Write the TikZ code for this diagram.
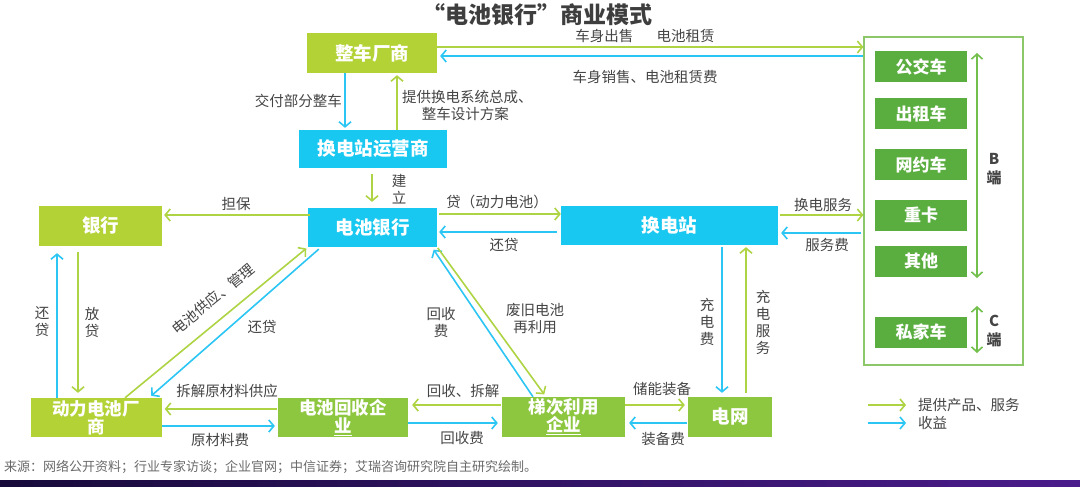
\documentclass[tikz,border=0pt]{standalone}
\usepackage{fontspec}
\setmainfont{Noto Sans CJK SC}
\usetikzlibrary{arrows.meta}
\definecolor{ygreen}{HTML}{B3D235}
\definecolor{mgreen}{HTML}{8DC63F}
\definecolor{dgreen}{HTML}{5AAD3F}
\definecolor{cyanb}{HTML}{19C8F0}
\definecolor{garr}{HTML}{AED443}
\definecolor{carr}{HTML}{2CC6F4}
\definecolor{barr}{HTML}{72BF4C}
\definecolor{txt}{HTML}{454545}
\definecolor{frame}{HTML}{8CC86A}
\definecolor{bandL}{HTML}{160A3A}
\definecolor{bandR}{HTML}{4B1C8C}
\tikzset{
  box/.style={inner sep=0pt, text=white, font=\bfseries\fontsize{18.5}{20}\selectfont, align=center},
  box2/.style={box, font=\bfseries\fontsize{17.5}{18}\selectfont},
  cbox/.style={box, fill=dgreen, minimum width=92pt, minimum height=31pt, font=\bfseries\fontsize{17}{19}\selectfont},
  lbl/.style={text=txt, font=\fontsize{14.5}{17}\selectfont, align=center, inner sep=0pt},
  ga/.style={draw=garr, line width=1.6pt, -{Straight Barb[length=5pt,width=12pt]}},
  ca/.style={draw=carr, line width=1.6pt, -{Straight Barb[length=5pt,width=12pt]}},
  ba/.style={draw=barr, line width=1.6pt, {Straight Barb[length=5pt,width=11pt]}-{Straight Barb[length=5pt,width=11pt]}},
}
\begin{document}
\begin{tikzpicture}[x=1pt,y=-1pt]
\useasboundingbox (0,0) rectangle (1080,487);
\fill[white] (0,0) rectangle (1080,487);
\shade[left color=bandL, right color=bandR] (0,480) rectangle (1080,487);

% title
\node[text=txt!90!black, font=\bfseries\fontsize{23}{26}\selectfont, inner sep=0pt] (title) at (537,15) {“电池银行”商业模式};

% main boxes
\node[box, fill=ygreen, minimum width=130pt, minimum height=40pt] (zc) at (372,53) {整车厂商};
\node[box, fill=cyanb, minimum width=148pt, minimum height=38pt] (op) at (373,149) {换电站运营商};
\node[box, fill=cyanb, minimum width=129pt, minimum height=39pt] (bb) at (372.5,227.5) {电池银行};
\node[box, fill=ygreen, minimum width=123pt, minimum height=40pt] (bank) at (100.5,226) {银行};
\node[box, fill=cyanb, minimum width=217pt, minimum height=39pt] (hdz) at (669.5,225.5) {换电站};
\node[box2, fill=ygreen, minimum width=131pt, minimum height=39pt] (dl) at (96,417.5) {动力电池厂\\商};
\node[box2, fill=mgreen, minimum width=130pt, minimum height=39pt] (hs) at (343,417.5) {电池回收企\\\underline{业}};
\node[box2, fill=mgreen, minimum width=123pt, minimum height=40pt] (tc) at (563.5,417) {梯次利用\\\underline{企业}};
\node[box, fill=mgreen, minimum width=84pt, minimum height=40pt] (dw) at (730,417) {电网};

% customer frame
\node[draw=frame, line width=1.2pt, minimum width=159pt, minimum height=328pt, inner sep=0pt] (cust) at (943.5,201) {};
\node[cbox] (c1) at (921,66.5) {公交车};
\node[cbox] (c2) at (921,113.5) {出租车};
\node[cbox] (c3) at (921,164.5) {网约车};
\node[cbox] (c4) at (921,215.5) {重卡};
\node[cbox] (c5) at (921,261.5) {其他};
\node[cbox] (c6) at (921,332) {私家车};
\coordinate (bT) at (977,53);
\coordinate (bB) at (977,278);
\coordinate (cT) at (977,306);
\coordinate (cB) at (977,353);
\draw[ba] (bT) -- (bB);
\draw[ba] (cT) -- (cB);
\node[text=txt, font=\bfseries\fontsize{15}{19}\selectfont, align=center, inner sep=0pt] (bl) at (994,169) {B\\端};
\node[text=txt, font=\bfseries\fontsize{15}{19}\selectfont, align=center, inner sep=0pt] (cl) at (994,331) {C\\端};

% zc <-> customers
\draw[ga] (zc.east |- 0,47) -- (cust.west |- 0,47);
\draw[ca] (cust.west |- 0,56) -- ([xshift=3pt]zc.east |- 0,56);
\node[lbl] (l1) at (645,36) {车身出售\hspace{1.6em}电池租赁};
\node[lbl] (l2) at (645,77) {车身销售、电池租赁费};

% zc <-> op
\draw[ca] (zc.south -| 345,0) -- ([yshift=2pt]op.north -| 345,0);
\draw[ga] (op.north -| 397,0) -- ([yshift=-2pt]zc.south -| 397,0);
\node[lbl, anchor=east] (l3) at (342,101) {交付部分整车};
\node[lbl, anchor=west, align=left] (l4) at (402,105) {提供换电系统总成、\\\hspace{1.35em}整车设计方案};

% op -> bb
\draw[ga, shorten <=6pt, shorten >=6pt] (op.south -| 372,0) -- (bb.north -| 372,0);
\node[lbl] (l5) at (399,189) {建\\立};

% bb -> bank
\draw[ga, shorten <=-2pt, shorten >=2pt] (bb.west |- 0,215) -- (bank.east |- 0,215);
\node[lbl] (l6) at (236,204) {担保};

% bb <-> hdz
\draw[ga, shorten <=2pt] (bb.east |- 0,214) -- (hdz.west |- 0,214);
\draw[ca, shorten <=4pt, shorten >=2pt] (hdz.west |- 0,232) -- (bb.east |- 0,232);
\node[lbl] (l7) at (497,202) {贷（动力电池）};
\node[lbl] (l8) at (504,245) {还贷};

% hdz <-> cust
\draw[ga, shorten <=2pt] (hdz.east |- 0,215) -- (cust.west |- 0,215);
\draw[ca, shorten <=2pt, shorten >=3pt] (cust.west |- 0,233) -- (hdz.east |- 0,233);
\node[lbl] (l9) at (823,205) {换电服务};
\node[lbl] (l10) at (827,245) {服务费};

% hdz <-> dw
\draw[ca, shorten <=2pt, shorten >=4pt] (hdz.south -| 722,0) -- (dw.north -| 722,0);
\draw[ga, shorten <=4pt, shorten >=2pt] (dw.north -| 746,0) -- (hdz.south -| 746,0);
\node[lbl] (l11) at (707,322) {充\\电\\费};
\node[lbl] (l12) at (763,322) {充\\电\\服\\务};

% bank <-> dl
\draw[ca, shorten >=7pt] (dl.north -| 57,0) -- (bank.south -| 57,0);
\draw[ga, shorten <=6pt, shorten >=5pt] (bank.south -| 78,0) -- (dl.north -| 78,0);
\node[lbl] (l13) at (42,322) {还\\贷};
\node[lbl] (l14) at (92,322) {放\\贷};

% diagonals bb <-> dl
\draw[ga, shorten >=2pt] (dl.north -| 125,0) -- (bb.south west);
\draw[ca, shorten <=3pt, shorten >=3pt] (bb.south -| 321,0) -- (dl.north -| 149,0);
\node[lbl, rotate=39] (l15) at (213,299) {电池供应、管理};
\node[lbl] (l16) at (262,327) {还贷};

% diagonals bb <-> tc
\draw[ca, shorten >=3pt] (tc.north -| 533,0) -- (bb.south -| 432,0);
\draw[ga, shorten <=1pt, shorten >=3pt] (bb.south east) -- (tc.north -| 546,0);
\node[lbl] (l17) at (441,322) {回收\\费};
\node[lbl] (l18) at (535,319) {废旧电池\\再利用};

% bottom row
\draw[ga, shorten <=1pt, shorten >=3pt] (hs.west |- 0,409) -- (dl.east |- 0,409);
\draw[ca, shorten >=3pt] (dl.east |- 0,426) -- (hs.west |- 0,426);
\node[lbl] (l19) at (227,391) {拆解原材料供应};
\node[lbl] (l20) at (220,440) {原材料费};

\draw[ga, shorten <=1pt, shorten >=4pt] (tc.west |- 0,405) -- (hs.east |- 0,405);
\draw[ca, shorten >=4pt] (hs.east |- 0,423) -- (tc.west |- 0,423);
\node[lbl] (l21) at (463,391) {回收、拆解};
\node[lbl] (l22) at (462,438) {回收费};

\draw[ga, shorten >=3pt] (tc.east |- 0,405) -- (dw.west |- 0,405);
\draw[ca, shorten <=1pt, shorten >=4pt] (dw.west |- 0,423) -- (tc.east |- 0,423);
\node[lbl] (l23) at (662,389) {储能装备};
\node[lbl] (l24) at (663,439) {装备费};

% legend
\coordinate (lg1a) at (868,405);
\coordinate (lg1b) at (906,405);
\coordinate (lg2a) at (868,423);
\coordinate (lg2b) at (906,423);
\draw[ga] (lg1a) -- (lg1b);
\draw[ca] (lg2a) -- (lg2b);
\node[lbl, anchor=west] (lt1) at (918,405) {提供产品、服务};
\node[lbl, anchor=west] (lt2) at (918,423) {收益};

% source
\node[text=txt!80, font=\fontsize{13}{15}\selectfont, anchor=west, inner sep=0pt] (src) at (4,467) {来源：网络公开资料；行业专家访谈；企业官网；中信证券；艾瑞咨询研究院自主研究绘制。};
\end{tikzpicture}
\end{document}
